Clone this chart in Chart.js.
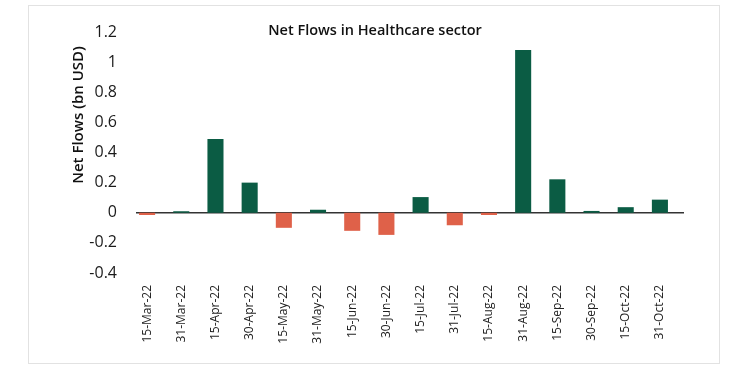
<!DOCTYPE html>
<html>
<head>
<meta charset="utf-8">
<script src="https://cdn.jsdelivr.net/npm/chart.js@4"></script>
<style>
  body { margin: 0; background: #fff; }
  #wrap { position: relative; width: 750px; height: 370px; }
  #frame { position: absolute; left: 28px; top: 5px; width: 690px; height: 357px; border: 1px solid #e2e2e2; pointer-events: none; }
</style>
</head>
<body>
<div id="wrap">
  <canvas id="chart" width="750" height="370"></canvas>
  <div id="frame"></div>
</div>
<script>
// DATA
const dates = ["15-Mar-22", "31-Mar-22", "15-Apr-22", "30-Apr-22", "15-May-22", "31-May-22",
  "15-Jun-22", "30-Jun-22", "15-Jul-22", "31-Jul-22", "15-Aug-22", "31-Aug-22",
  "15-Sep-22", "30-Sep-22", "15-Oct-22", "31-Oct-22"];
const netFlows = [-0.015, 0.01, 0.49, 0.2, -0.1, 0.02, -0.12, -0.147, 0.104, -0.083, -0.015, 1.08,
  0.222, 0.012, 0.037, 0.087];
const yTicks = [-0.4, -0.2, 0, 0.2, 0.4, 0.6, 0.8, 1, 1.2];

const GREEN = "#0b5c44";
const RED = "#df6149";
const FONT = "'Open Sans', sans-serif";

// title, y axis title and zero line drawn on canvas
const labelsPlugin = {
  id: "labels",
  beforeDatasetsDraw(chart) {
    const ctx = chart.ctx;
    const area = chart.chartArea;
    const y0 = chart.scales.y.getPixelForValue(0);
    ctx.save();
    ctx.strokeStyle = "#333";
    ctx.lineWidth = 1.5;
    ctx.beginPath();
    ctx.moveTo(area.left + 6, y0);
    ctx.lineTo(area.right + 7, y0);
    ctx.stroke();
    ctx.restore();
  },
  afterDraw(chart) {
    const ctx = chart.ctx;
    ctx.save();
    ctx.fillStyle = "#111";
    ctx.textAlign = "center";
    ctx.textBaseline = "middle";
    ctx.font = "600 14.5px " + FONT;
    ctx.fillText("Net Flows in Healthcare sector", 375, 31);

    ctx.translate(79, 115);
    ctx.rotate(-Math.PI / 2);
    ctx.font = "600 15px " + FONT;
    ctx.fillText("Net Flows (bn USD)", 0, 0);
    ctx.restore();
  }
};

new Chart(document.getElementById("chart"), {
  type: "bar",
  data: {
    labels: dates,
    datasets: [{
      data: netFlows,
      backgroundColor: netFlows.map(v => v < 0 ? RED : GREEN),
      categoryPercentage: 1,
      barPercentage: 0.47
    }]
  },
  plugins: [labelsPlugin],
  options: {
    responsive: false,
    animation: false,
    layout: { padding: { top: 32, left: 30, right: 73, bottom: 0 } },
    plugins: { legend: { display: false }, tooltip: { enabled: false } },
    scales: {
      x: {
        grid: { display: false, drawTicks: false },
        border: { display: false },
        ticks: {
          color: "#222",
          font: { family: FONT, size: 12, weight: 500 },
          minRotation: 90,
          maxRotation: 90,
          padding: 12,
          autoSkip: false
        },
        afterFit(scale) { scale.height = 97; }
      },
      y: {
        min: yTicks[0],
        max: yTicks[yTicks.length - 1],
        afterBuildTicks(scale) { scale.ticks = yTicks.map(v => ({ value: v })); },
        grid: { display: false, drawTicks: false },
        border: { display: false },
        ticks: {
          color: "#1a1a1a",
          font: { family: FONT, size: 16, weight: 500 },
          padding: 13,
          callback: v => String(parseFloat(v.toFixed(1)))
        },
        afterFit(scale) { scale.width = 100; }
      }
    }
  }
});
</script>
</body>
</html>
